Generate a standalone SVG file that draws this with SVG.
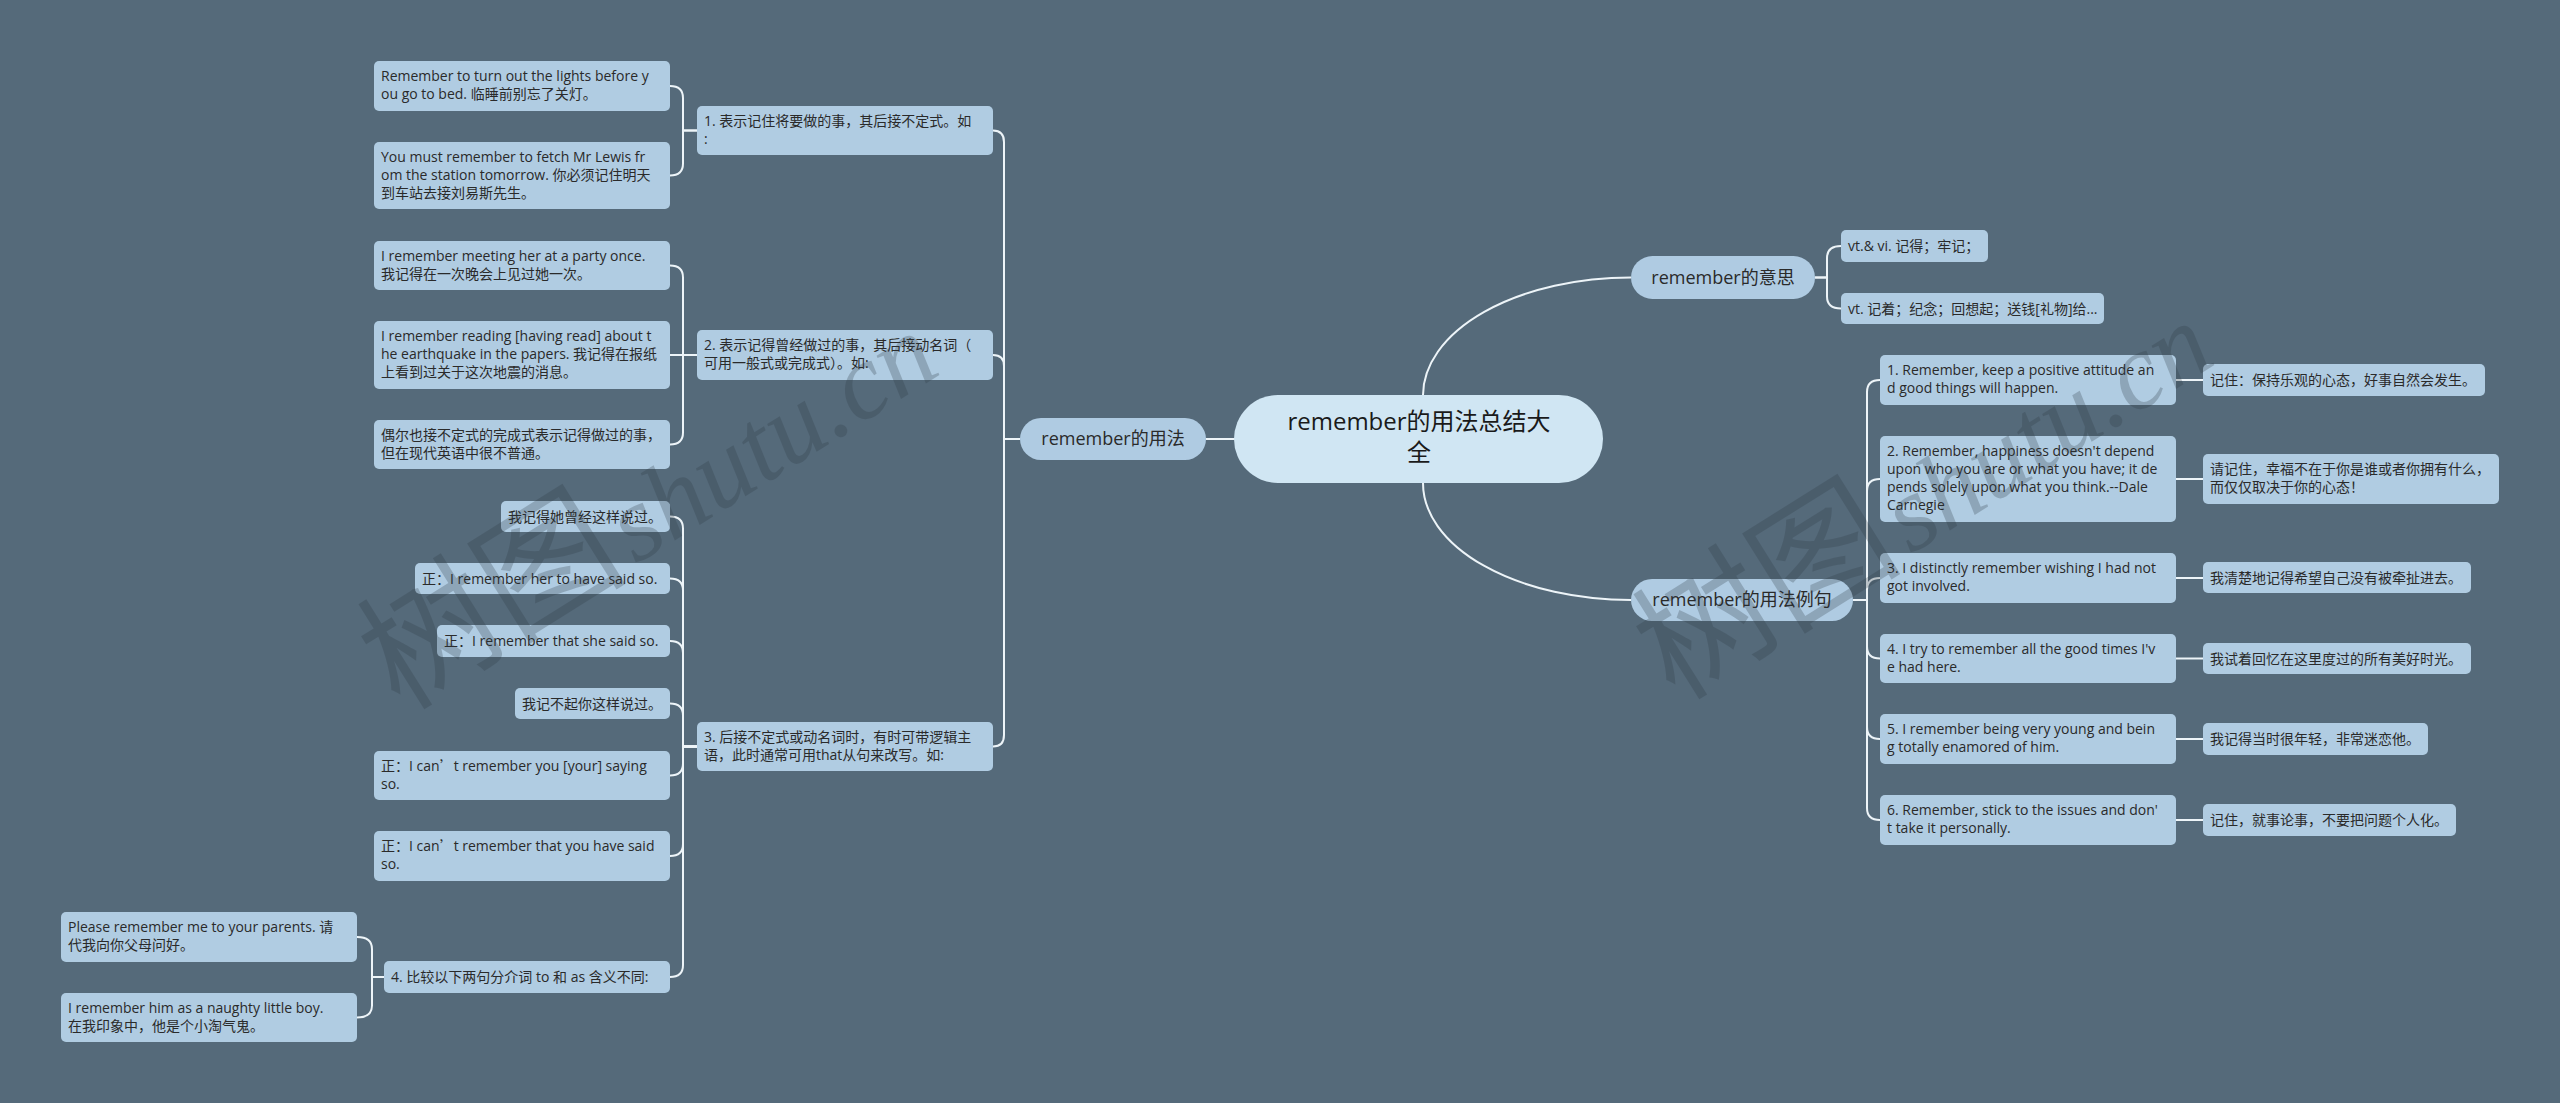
<svg xmlns="http://www.w3.org/2000/svg" width="2560" height="1103" viewBox="0 0 2560 1103">
<style>
.bg{fill:#556A7A}
.leaf{fill:#B0CCE2}
.l1{fill:#AFCBE2}
.root{fill:#D0E6F3}
.t{font-family:"Open Sans","Noto Sans CJK SC",sans-serif;font-size:14px;fill:#2a2a2a}
.t1{font-family:"Open Sans","Noto Sans CJK SC",sans-serif;font-size:18px;fill:#2a2a2a;text-anchor:middle}
.t0{font-family:"Open Sans","Noto Sans CJK SC",sans-serif;font-size:24px;fill:#1a1a1a;text-anchor:middle}
.cj{font-family:"Noto Sans CJK SC",sans-serif}
.conn path{fill:none;stroke:#EDF4F8;stroke-width:2}
.wm{font-family:"Noto Sans CJK SC",serif;font-size:135px;fill:#2E3A44;opacity:0.26}
.wl{font-family:"Liberation Serif",serif;font-style:italic;font-size:108px}
</style>
<rect class="bg" x="0" y="0" width="2560" height="1103"/>
<g id="connectors" class="conn">
<path d="M1020 439H1004V142Q1004 130.5 993 130.5"/>
<path d="M1020 439H1004V366Q1004 355 993 355"/>
<path d="M1020 439H1004V735Q1004 746.5 993 746.5"/>
<path d="M697 130.5H683V98Q683 86 670 86"/>
<path d="M697 130.5H683V163.5Q683 175.5 670 175.5"/>
<path d="M697 355H683V277.5Q683 265.5 670 265.5"/>
<path d="M697 355H670"/>
<path d="M697 355H683V432.5Q683 444.5 670 444.5"/>
<path d="M697 746.5H683V528.5Q683 516.5 670 516.5"/>
<path d="M697 746.5H683V590.5Q683 578.5 670 578.5"/>
<path d="M697 746.5H683V653Q683 641 670 641"/>
<path d="M697 746.5H683V715.5Q683 703.5 670 703.5"/>
<path d="M697 746.5H683V763.5Q683 775.5 670 775.5"/>
<path d="M697 746.5H683V844Q683 856 670 856"/>
<path d="M697 746.5H683V965Q683 977 670 977"/>
<path d="M384 977H372V949Q372 937 357 937"/>
<path d="M384 977H372V1005.5Q372 1017.5 357 1017.5"/>
<path d="M1300 439H1206"/>
<path d="M1423 420V395A208 118 0 0 1 1631 277.5"/>
<path d="M1423 460V483A208 117 0 0 0 1631 600"/>
<path d="M1815 277.5H1827V258Q1827 246 1841 246"/>
<path d="M1815 277.5H1827V296.5Q1827 308.5 1841 308.5"/>
<path d="M1853 600H1867V392Q1867 380 1880 380"/>
<path d="M1853 600H1867V491Q1867 479 1880 479"/>
<path d="M1853 600H1867V590Q1867 578 1880 578"/>
<path d="M1853 600H1867V646.5Q1867 658.5 1880 658.5"/>
<path d="M1853 600H1867V727Q1867 739 1880 739"/>
<path d="M1853 600H1867V808Q1867 820 1880 820"/>
<path d="M2176 380H2203"/>
<path d="M2176 479H2203"/>
<path d="M2176 578H2203"/>
<path d="M2176 658.5H2203"/>
<path d="M2176 739H2203"/>
<path d="M2176 820H2203"/>
</g>
<g id="root">
<rect class="root" x="1234" y="395" width="369" height="88" rx="44"/>
<text class="t0" x="1419" y="430">remember的用法总结大</text>
<text class="t0" x="1419" y="461">全</text>
</g>
<g id="usage">
<rect class="l1" x="1020" y="418" width="186" height="42" rx="21"/>
<text class="t1" x="1113" y="445">remember的用法</text>
</g>
<g id="meaning">
<rect class="l1" x="1631" y="256" width="184" height="43" rx="21.5"/>
<text class="t1" x="1723" y="284">remember的意思</text>
</g>
<g id="examples">
<rect class="l1" x="1631" y="579" width="222" height="42" rx="21"/>
<text class="t1" x="1742" y="606">remember的用法例句</text>
</g>
<g id="u1">
<rect class="leaf" x="697" y="106" width="296" height="49" rx="5"/>
<text class="t" x="704" y="126">1. 表示记住将要做的事，其后接不定式。如</text>
<text class="t" x="704" y="144">:</text>
</g>
<g id="u1a">
<rect class="leaf" x="374" y="61" width="296" height="50" rx="5"/>
<text class="t" x="381" y="81">Remember to turn out the lights before y</text>
<text class="t" x="381" y="99">ou go to bed. 临睡前别忘了关灯。</text>
</g>
<g id="u1b">
<rect class="leaf" x="374" y="142" width="296" height="67" rx="5"/>
<text class="t" x="381" y="162">You must remember to fetch Mr Lewis fr</text>
<text class="t" x="381" y="180">om the station tomorrow. 你必须记住明天</text>
<text class="t" x="381" y="198">到车站去接刘易斯先生。</text>
</g>
<g id="u2">
<rect class="leaf" x="697" y="330" width="296" height="50" rx="5"/>
<text class="t" x="704" y="350">2. 表示记得曾经做过的事，其后接动名词（</text>
<text class="t" x="704" y="368">可用一般式或完成式）。如:</text>
</g>
<g id="u2a">
<rect class="leaf" x="374" y="241" width="296" height="49" rx="5"/>
<text class="t" x="381" y="261">I remember meeting her at a party once.</text>
<text class="t" x="381" y="279">我记得在一次晚会上见过她一次。</text>
</g>
<g id="u2b">
<rect class="leaf" x="374" y="321" width="296" height="68" rx="5"/>
<text class="t" x="381" y="341">I remember reading [having read] about t</text>
<text class="t" x="381" y="359">he earthquake in the papers. 我记得在报纸</text>
<text class="t" x="381" y="377">上看到过关于这次地震的消息。</text>
</g>
<g id="u2c">
<rect class="leaf" x="374" y="420" width="296" height="49" rx="5"/>
<text class="t" x="381" y="440">偶尔也接不定式的完成式表示记得做过的事，</text>
<text class="t" x="381" y="458">但在现代英语中很不普通。</text>
</g>
<g id="u3">
<rect class="leaf" x="697" y="722" width="296" height="49" rx="5"/>
<text class="t" x="704" y="742">3. 后接不定式或动名词时，有时可带逻辑主</text>
<text class="t" x="704" y="760">语，此时通常可用that从句来改写。如:</text>
</g>
<g id="u3a">
<rect class="leaf" x="501" y="501" width="169" height="31" rx="5"/>
<text class="t" x="508" y="522">我记得她曾经这样说过。</text>
</g>
<g id="u3b">
<rect class="leaf" x="415" y="563" width="255" height="31" rx="5"/>
<text class="t" x="422" y="584">正：I remember her to have said so.</text>
</g>
<g id="u3c">
<rect class="leaf" x="437" y="625" width="233" height="32" rx="5"/>
<text class="t" x="444" y="646">正：I remember that she said so.</text>
</g>
<g id="u3d">
<rect class="leaf" x="515" y="688" width="155" height="31" rx="5"/>
<text class="t" x="522" y="709">我记不起你这样说过。</text>
</g>
<g id="u3e">
<rect class="leaf" x="374" y="751" width="296" height="49" rx="5"/>
<text class="t" x="381" y="771">正：I can<tspan class="cj">’</tspan>t remember you [your] saying</text>
<text class="t" x="381" y="789">so.</text>
</g>
<g id="u3f">
<rect class="leaf" x="374" y="831" width="296" height="50" rx="5"/>
<text class="t" x="381" y="851">正：I can<tspan class="cj">’</tspan>t remember that you have said</text>
<text class="t" x="381" y="869"> so.</text>
</g>
<g id="u4">
<rect class="leaf" x="384" y="961" width="286" height="32" rx="5"/>
<text class="t" x="391" y="982">4. 比较以下两句分介词 to 和 as 含义不同:</text>
</g>
<g id="u4a">
<rect class="leaf" x="61" y="912" width="296" height="50" rx="5"/>
<text class="t" x="68" y="932">Please remember me to your parents. 请</text>
<text class="t" x="68" y="950">代我向你父母问好。</text>
</g>
<g id="u4b">
<rect class="leaf" x="61" y="993" width="296" height="49" rx="5"/>
<text class="t" x="68" y="1013">I remember him as a naughty little boy.</text>
<text class="t" x="68" y="1031">在我印象中，他是个小淘气鬼。</text>
</g>
<g id="m1">
<rect class="leaf" x="1841" y="230" width="147" height="32" rx="5"/>
<text class="t" x="1848" y="251">vt.&amp; vi. 记得；牢记；</text>
</g>
<g id="m2">
<rect class="leaf" x="1841" y="293" width="263" height="31" rx="5"/>
<text class="t" x="1848" y="314">vt. 记着；纪念；回想起；送钱[礼物]给...</text>
</g>
<g id="e1">
<rect class="leaf" x="1880" y="355" width="296" height="50" rx="5"/>
<text class="t" x="1887" y="375">1. Remember, keep a positive attitude an</text>
<text class="t" x="1887" y="393">d good things will happen.</text>
</g>
<g id="f1">
<rect class="leaf" x="2203" y="364" width="282" height="32" rx="5"/>
<text class="t" x="2210" y="385">记住：保持乐观的心态，好事自然会发生。</text>
</g>
<g id="e2">
<rect class="leaf" x="1880" y="436" width="296" height="86" rx="5"/>
<text class="t" x="1887" y="456">2. Remember, happiness doesn't depend</text>
<text class="t" x="1887" y="474">upon who you are or what you have; it de</text>
<text class="t" x="1887" y="492">pends solely upon what you think.--Dale</text>
<text class="t" x="1887" y="510">Carnegie</text>
</g>
<g id="f2">
<rect class="leaf" x="2203" y="454" width="296" height="50" rx="5"/>
<text class="t" x="2210" y="474">请记住，幸福不在于你是谁或者你拥有什么，</text>
<text class="t" x="2210" y="492">而仅仅取决于你的心态！</text>
</g>
<g id="e3">
<rect class="leaf" x="1880" y="553" width="296" height="50" rx="5"/>
<text class="t" x="1887" y="573">3. I distinctly remember wishing I had not</text>
<text class="t" x="1887" y="591"> got involved.</text>
</g>
<g id="f3">
<rect class="leaf" x="2203" y="562" width="268" height="31" rx="5"/>
<text class="t" x="2210" y="583">我清楚地记得希望自己没有被牵扯进去。</text>
</g>
<g id="e4">
<rect class="leaf" x="1880" y="634" width="296" height="49" rx="5"/>
<text class="t" x="1887" y="654">4. I try to remember all the good times I'v</text>
<text class="t" x="1887" y="672">e had here.</text>
</g>
<g id="f4">
<rect class="leaf" x="2203" y="643" width="268" height="31" rx="5"/>
<text class="t" x="2210" y="664">我试着回忆在这里度过的所有美好时光。</text>
</g>
<g id="e5">
<rect class="leaf" x="1880" y="714" width="296" height="50" rx="5"/>
<text class="t" x="1887" y="734">5. I remember being very young and bein</text>
<text class="t" x="1887" y="752">g totally enamored of him.</text>
</g>
<g id="f5">
<rect class="leaf" x="2203" y="723" width="225" height="32" rx="5"/>
<text class="t" x="2210" y="744">我记得当时很年轻，非常迷恋他。</text>
</g>
<g id="e6">
<rect class="leaf" x="1880" y="795" width="296" height="50" rx="5"/>
<text class="t" x="1887" y="815">6. Remember, stick to the issues and don'</text>
<text class="t" x="1887" y="833">t take it personally.</text>
</g>
<g id="f6">
<rect class="leaf" x="2203" y="804" width="253" height="32" rx="5"/>
<text class="t" x="2210" y="825">记住，就事论事，不要把问题个人化。</text>
</g>
<g id="watermark">
<text class="wm" transform="translate(400,712) rotate(-32)">树图<tspan class="wl" dx="8">shutu.cn</tspan></text>
<text class="wm" transform="translate(1675,702) rotate(-32)">树图<tspan class="wl" dx="8">shutu.cn</tspan></text>
</g>
</svg>
